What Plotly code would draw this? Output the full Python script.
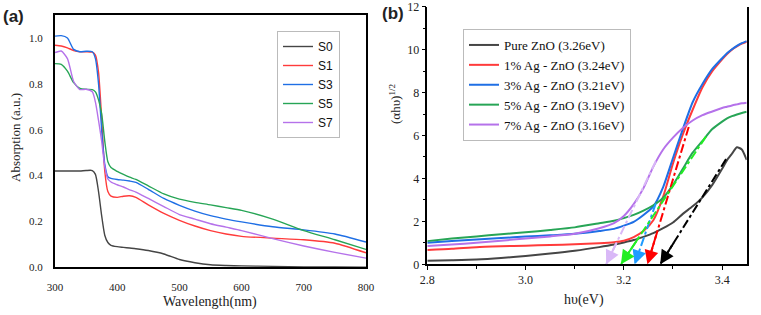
import plotly.graph_objects as go

# ---------------- Panel (a) data ----------------
wavelength = [300, 310, 320, 330, 340, 350, 360, 365, 370, 375, 380, 385, 390, 400,
              410, 420, 430, 450, 475, 500, 525, 550, 575, 600, 650, 700, 750, 800]
abs_S0 = [0.42, 0.42, 0.42, 0.42, 0.42, 0.422, 0.422, 0.405, 0.33, 0.225, 0.14, 0.108, 0.096, 0.09,
          0.087, 0.084, 0.081, 0.073, 0.058, 0.034, 0.02, 0.011, 0.008, 0.006, 0.004, 0.002, 0.001, 0.0]
abs_S1 = [0.968, 0.965, 0.957, 0.945, 0.94, 0.94, 0.938, 0.925, 0.85, 0.65, 0.42, 0.33, 0.31, 0.305,
          0.31, 0.312, 0.305, 0.272, 0.235, 0.205, 0.18, 0.16, 0.145, 0.135, 0.127, 0.12, 0.105, 0.063]
abs_S3 = [1.008, 1.01, 1.0, 0.95, 0.94, 0.942, 0.94, 0.91, 0.8, 0.6, 0.45, 0.395, 0.388, 0.383,
          0.38, 0.376, 0.37, 0.34, 0.3, 0.27, 0.245, 0.225, 0.21, 0.198, 0.177, 0.163, 0.145, 0.11]
abs_S5 = [0.888, 0.885, 0.855, 0.805, 0.78, 0.776, 0.775, 0.765, 0.73, 0.67, 0.55, 0.46, 0.435, 0.418,
          0.405, 0.393, 0.383, 0.355, 0.32, 0.297, 0.283, 0.272, 0.26, 0.248, 0.21, 0.16, 0.12, 0.078]
abs_S7 = [0.936, 0.943, 0.91, 0.81, 0.775, 0.776, 0.765, 0.72, 0.64, 0.55, 0.44, 0.385, 0.372, 0.36,
          0.35, 0.338, 0.328, 0.3, 0.265, 0.23, 0.21, 0.19, 0.175, 0.16, 0.125, 0.093, 0.065, 0.04]
names_a = ["S0", "S1", "S3", "S5", "S7"]

# ---------------- Panel (b) data ----------------
energy = [2.8, 2.85, 2.9, 2.95, 3.0, 3.05, 3.1, 3.15, 3.18, 3.2, 3.22, 3.24, 3.26, 3.28, 3.3,
          3.32, 3.34, 3.36, 3.38, 3.4, 3.41, 3.42, 3.43, 3.44, 3.45]
tauc_pure = [0.17, 0.19, 0.22, 0.29, 0.39, 0.5, 0.63, 0.8, 0.92, 1.02, 1.13, 1.28, 1.45, 1.68, 1.95,
             2.35, 2.7, 3.12, 3.7, 4.45, 4.85, 5.15, 5.45, 5.35, 4.86]
tauc_1 = [0.67, 0.72, 0.8, 0.84, 0.87, 0.9, 0.93, 0.98, 1.03, 1.1, 1.27, 1.55, 2.05, 3.15, 4.7,
          6.05, 7.2, 8.25, 9.0, 9.55, 9.8, 10.0, 10.15, 10.28, 10.37]
tauc_3 = [1.0, 1.08, 1.15, 1.22, 1.29, 1.35, 1.42, 1.55, 1.65, 1.8, 1.98, 2.3, 2.7, 3.6, 4.95,
          6.3, 7.55, 8.4, 9.1, 9.6, 9.83, 10.02, 10.18, 10.3, 10.4]
tauc_5 = [1.08, 1.2, 1.3, 1.4, 1.49, 1.6, 1.72, 1.91, 2.03, 2.15, 2.3, 2.5, 2.75, 3.1, 3.7,
          4.45, 5.2, 5.75, 6.3, 6.65, 6.8, 6.9, 6.98, 7.05, 7.11]
tauc_7 = [0.85, 0.92, 1.0, 1.1, 1.2, 1.3, 1.42, 1.68, 1.92, 2.25, 2.8, 3.55, 4.55, 5.35, 5.9,
          6.35, 6.7, 6.95, 7.12, 7.28, 7.34, 7.4, 7.45, 7.5, 7.53]
names_b = ["Pure ZnO (3.26eV)", "1% Ag - ZnO (3.24eV)", "3% Ag - ZnO (3.21eV)",
           "5% Ag - ZnO (3.19eV)", "7% Ag - ZnO (3.16eV)"]

# tangent (band-gap extrapolation) lines: top point -> tip on x axis
tangent_tip_E = [3.274, 3.248, 3.222, 3.194, 3.164]
tangent_top_E = [3.408, 3.332, 3.265, 3.367, 3.265]
tangent_top_Y = [4.9, 6.4, 2.84, 5.95, 4.8]

line_colors = ["#454545", "#FF3B3B", "#1F6FE5", "#27A556", "#B572EA"]
tangent_colors = ["#000000", "#FF0000", "#1E9BFF", "#22EE22", "#D9B8F7"]

serif = "Liberation Serif"
sans = "Liberation Sans"
W, H = 761, 315

fig = go.Figure()

series_a = [abs_S0, abs_S1, abs_S3, abs_S5, abs_S7]
for name, ys, c in zip(names_a, series_a, line_colors):
    fig.add_trace(go.Scatter(x=wavelength, y=ys, name=name, mode="lines",
                             line=dict(color=c, width=1.4, shape="spline", smoothing=0.6),
                             xaxis="x", yaxis="y", legend="legend"))

series_b = [tauc_pure, tauc_1, tauc_3, tauc_5, tauc_7]
for name, ys, c in zip(names_b, series_b, line_colors):
    fig.add_trace(go.Scatter(x=energy, y=ys, name=name, mode="lines",
                             line=dict(color=c, width=2, shape="spline", smoothing=0.6),
                             xaxis="x2", yaxis="y2", legend="legend2"))

annotations = []
for e0, e1, y1, c in zip(tangent_tip_E, tangent_top_E, tangent_top_Y, tangent_colors):
    fig.add_trace(go.Scatter(x=[e1, e0], y=[y1, 0], mode="lines", showlegend=False,
                             line=dict(color=c, width=2, dash="dashdot"),
                             xaxis="x2", yaxis="y2", hoverinfo="skip"))
    f = 0.22
    annotations.append(dict(x=e0, y=0, ax=e0 + f * (e1 - e0), ay=f * y1,
                            xref="x2", yref="y2", axref="x2", ayref="y2",
                            showarrow=True, arrowhead=2, arrowsize=1.4, arrowwidth=2,
                            arrowcolor=c, standoff=0, text=""))

# text labels (pixel positions converted to paper coords)
labels = [
    ("<b>(a)</b>", 13, 16, 0, sans, 17),
    ("<b>(b)</b>", 393, 14, 0, sans, 17),
    ("Absorption (a.u.)", 15, 138, -90, serif, 13),
    ("Wavelength(nm)", 210, 302, 0, serif, 14),
    ("hυ(eV)", 584, 300, 0, serif, 14),
    ("(αhυ)<sup>1/2</sup>", 395, 104, -90, serif, 13),
]
for text, px, py, ang, fam, sz in labels:
    annotations.append(dict(text=text, x=px / W, y=1 - py / H, xref="paper", yref="paper",
                            xanchor="center", yanchor="middle", textangle=ang,
                            showarrow=False, font=dict(family=fam, size=sz, color="#222")))

fig.update_layout(
    template="none",
    width=W, height=H, margin=dict(l=0, r=0, t=0, b=0, autoexpand=False),
    paper_bgcolor="white", plot_bgcolor="white",
    showlegend=True,
    annotations=annotations,
    xaxis=dict(domain=[55 / W, 366 / W], range=[300, 800], dtick=100, tick0=300,
               showline=True, linecolor="black", linewidth=2, mirror=True, ticks="",
               ticklabelstandoff=8, showgrid=False, zeroline=False, automargin=False,
               ticklabeloverflow="allow",
               tickfont=dict(family=serif, size=11, color="#222"), anchor="y"),
    yaxis=dict(domain=[1 - 267.3 / H, 1 - 15 / H], range=[0, 1.1], dtick=0.2, tickformat=".1f",
               showline=True, linecolor="black", linewidth=2, mirror=True, ticks="",
               ticklabelstandoff=8, showgrid=False, zeroline=False, automargin=False,
               ticklabeloverflow="allow",
               tickfont=dict(family=serif, size=11, color="#222"), anchor="x"),
    xaxis2=dict(domain=[427.3 / W, 746.7 / W], range=[2.8, 3.45], dtick=0.2, tick0=2.8,
                tickformat=".1f", showline=True, linecolor="black", linewidth=1.5,
                ticks="outside", ticklen=4, tickwidth=1, tickcolor="black",
                minor=dict(dtick=0.1, ticks="outside", ticklen=2.5, tickcolor="black"),
                showgrid=False, zeroline=False, automargin=False,
                ticklabeloverflow="allow",
                tickfont=dict(family=serif, size=12, color="#222"), anchor="y2"),
    yaxis2=dict(domain=[1 - 264.3 / H, 1 - 6.7 / H], range=[0, 12.001], dtick=2, tick0=0,
                showline=True, linecolor="black", linewidth=1.5, mirror=True,
                ticks="outside", ticklen=4, tickwidth=1, tickcolor="black",
                minor=dict(dtick=1, ticks="outside", ticklen=2.5, tickcolor="black"),
                showgrid=False, zeroline=False, automargin=False,
                ticklabeloverflow="allow",
                tickfont=dict(family=serif, size=12, color="#222"), anchor="x2"),
    legend=dict(x=277 / W, y=1 - 31 / H, xanchor="left", yanchor="top",
                bgcolor="white", bordercolor="#BBBBBB", borderwidth=1,
                font=dict(family=sans, size=12, color="#111"), itemwidth=30,
                tracegroupgap=0),
    legend2=dict(x=463 / W, y=1 - 29 / H, xanchor="left", yanchor="top",
                 bgcolor="white", bordercolor="#BBBBBB", borderwidth=1,
                 font=dict(family=serif, size=13, color="#111"), itemwidth=30,
                 tracegroupgap=0),
)

fig.write_html("out.html")
